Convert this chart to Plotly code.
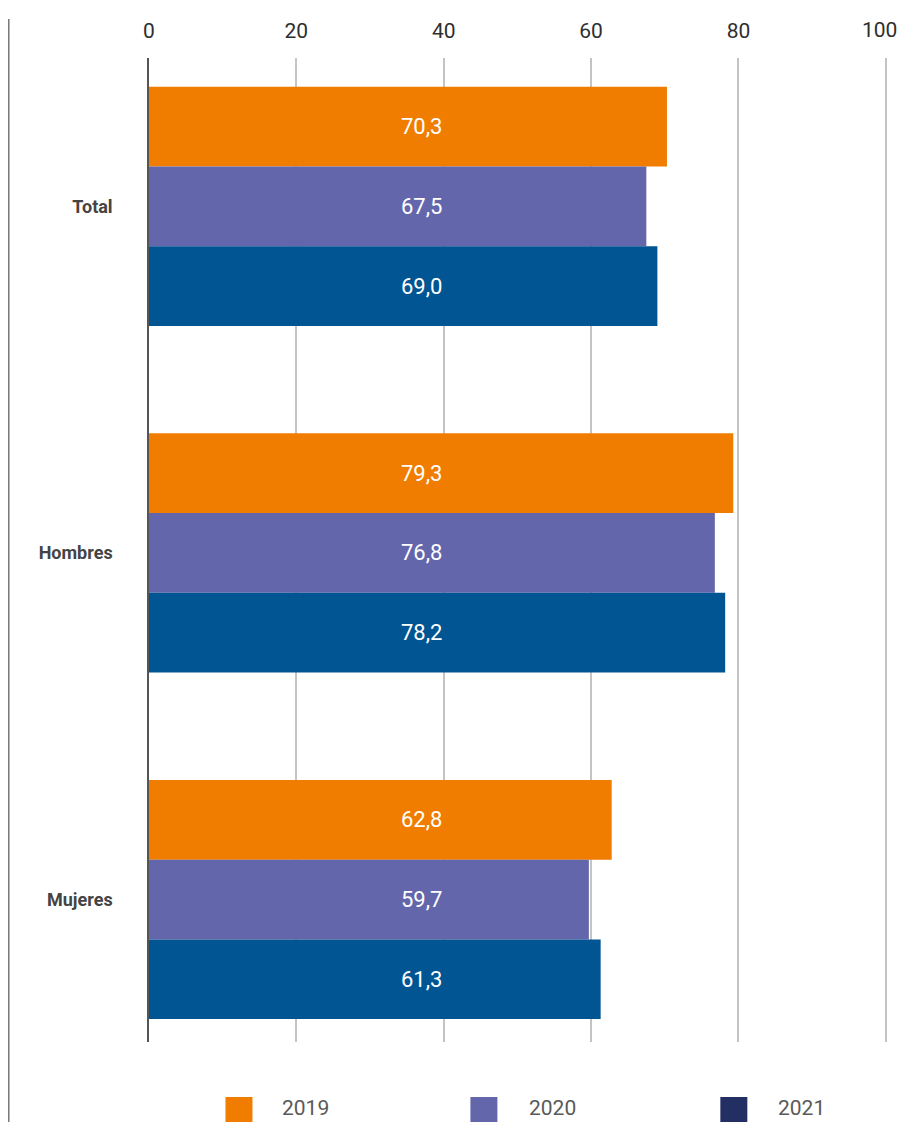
import plotly.graph_objects as go

categories = ["Total", "Hombres", "Mujeres"]
years = ["2019", "2020", "2021"]
values_2019 = [70.3, 79.3, 62.8]
values_2020 = [67.5, 76.8, 59.7]
values_2021 = [69.0, 78.2, 61.3]
series = [values_2019, values_2020, values_2021]
bar_colors = ["#F07D00", "#6466AC", "#005592"]
legend_colors = ["#F07D00", "#6466AC", "#232E62"]
x_ticks = [0, 20, 40, 60, 80, 100]

# page offset caused by the default 8px body margin of the html page
OFF = 8
PAGE_W, PAGE_H = 907, 1122
W, H = PAGE_W - OFF, PAGE_H - OFF
X_MAX = 100.3
SCALE = 737 / 100.0
ML, MT, MB = 149 - OFF, 58 - OFF, PAGE_H - 1042
MR = W - ML - SCALE * X_MAX
PW, PH = W - ML - MR, H - MT - MB
BARGAP = 0.31
LABEL_X = 37.0
TICK_FONT = dict(family="Roboto, sans-serif", size=21, color="#2e2e2e")

def px_x(px):
    return (px - OFF - ML) / PW

def px_y(py):
    return (H - MB - (py - OFF)) / PH

fig = go.Figure()
ypos = list(range(len(categories)))
for name, vals, col in zip(years, series, bar_colors):
    fig.add_trace(go.Bar(
        y=ypos, x=vals, orientation="h", name=name,
        marker=dict(color=col, line=dict(width=0)),
        showlegend=False, hoverinfo="x+name",
    ))

bw = (1 - BARGAP) / len(years)
annotations = []
for j, vals in enumerate(series):
    for i, v in enumerate(vals):
        annotations.append(dict(
            x=LABEL_X, y=i + (j - 1) * bw, xref="x", yref="y",
            text=f"{v:.1f}".replace(".", ","), showarrow=False,
            font=dict(family="Roboto, sans-serif", size=22, color="white"),
            xanchor="center", yanchor="middle",
        ))

# the last tick label sits at the right edge of the page: drawn as an
# annotation nudged inward so it is not clipped
tick_text = [str(t) for t in x_ticks[:-1]] + [""]
annotations.append(dict(
    x=x_ticks[-1], y=px_y(30), xref="x", yref="paper",
    text=str(x_ticks[-1]), showarrow=False, xanchor="center", yanchor="middle",
    xshift=-6, font=TICK_FONT,
))

# custom legend
leg_x = [225.5, 470.5, 720.5]
leg_tx = [280.5, 527, 776]
shapes = []
for k, (name, col) in enumerate(zip(years, legend_colors)):
    shapes.append(dict(type="rect", xref="paper", yref="paper",
                       x0=px_x(leg_x[k]), x1=px_x(leg_x[k] + 27),
                       y0=px_y(1126), y1=px_y(1097),
                       fillcolor=col, line=dict(width=0), layer="above"))
    annotations.append(dict(
        x=px_x(leg_tx[k]), y=px_y(1121.5), xref="paper", yref="paper",
        text=name, showarrow=False, xanchor="left", yanchor="bottom",
        font=dict(family="Roboto, sans-serif", size=21, color="#595959"),
    ))

# left border line
shapes.append(dict(type="line", xref="paper", yref="paper",
                   x0=px_x(8.5), x1=px_x(8.5), y0=px_y(1126), y1=px_y(19),
                   line=dict(color="#7a7a7a", width=2)))

fig.update_layout(
    width=W, height=H,
    margin=dict(l=ML, r=MR, t=MT, b=MB, autoexpand=False),
    paper_bgcolor="white", plot_bgcolor="white",
    barmode="group", bargap=BARGAP, bargroupgap=0,
    showlegend=False,
    annotations=annotations, shapes=shapes,
    xaxis=dict(
        side="top", range=[0, X_MAX], tickvals=x_ticks, ticktext=tick_text,
        showgrid=True, gridcolor="#c4c4c4", gridwidth=1.5,
        zeroline=False, showline=False, ticks="", automargin=False,
        tickfont=TICK_FONT, ticklabelstandoff=15, fixedrange=True,
    ),
    yaxis=dict(
        range=[2.411, -0.428], tickvals=ypos, ticktext=categories,
        showgrid=False, zeroline=False, automargin=False,
        showline=True, linecolor="#555555", linewidth=1.5,
        ticks="", ticklabelstandoff=31,
        tickfont=dict(family="Roboto, sans-serif", size=18, color="#444444", weight="bold"),
        fixedrange=True,
    ),
)

fig.write_html("out.html", config={"responsive": False, "displayModeBar": False})
